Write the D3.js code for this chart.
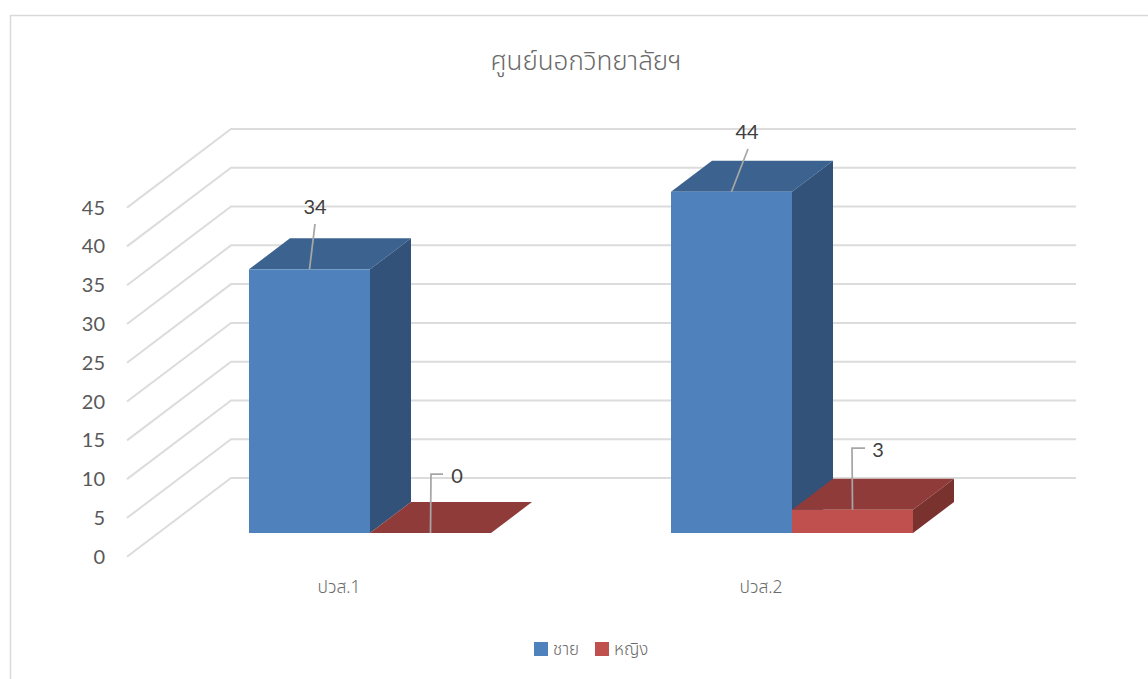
<!DOCTYPE html>
<html><head><meta charset="utf-8">
<script src="https://cdnjs.cloudflare.com/ajax/libs/d3/7.8.5/d3.min.js"></script>
<style>html,body{margin:0;padding:0;background:#fff;overflow:hidden}svg{display:block}</style>
</head><body><svg id="c" width="1148" height="679"></svg>
<script>
const chartTitle = "ศูนย์นอกวิทยาลัยฯ";
const categories = ["ปวส.1", "ปวส.2"];
const seriesNames = ["ชาย", "หญิง"];
const maleValues = [34, 44];
const femaleValues = [0, 3];
const yTicks = [0, 5, 10, 15, 20, 25, 30, 35, 40, 45];
const labelAnchors = [
  {v:34, tx:315, ty:207, path:[[315,224]]},
  {v:0, tx:457, ty:476, path:[[431,474],[443,474]]},
  {v:44, tx:747, ty:132, path:[[748,149]]},
  {v:3, tx:878, ty:450, path:[[852,448],[865,448]]}
];
const font = "Lato,'Noto Sans',sans-serif";
const thaiFont = "'Noto Sans Thai','Noto Sans','DejaVu Sans',sans-serif";
const svg = d3.select("#c");
// frame
svg.append("path").attr("d","M10.5,679V15.5H1148").attr("fill","none").attr("stroke","#d9d9d9").attr("stroke-width",1.5);
const depth = {x:41, y:-31};
const yFront = d3.scaleLinear().domain([0,45]).range([556.7,207.6]);
const yBack = d3.scaleLinear().domain([0,45]).range([478,129]);
const yBar = d3.scaleLinear().domain([0,45]).range([533,184]);
const x0 = d3.scaleBand().domain(categories).range([159,1003]);
const x1 = d3.scaleBand().domain(seriesNames).range([0,242]);
const xOffset = (x0.bandwidth()-242)/2;
const g = svg.append("g");
// gridlines
g.selectAll("path.grid").data(yTicks).join("path").attr("class","grid")
 .attr("d",d=>`M127,${yFront(d)}L231,${yBack(d)}H1076`)
 .attr("fill","none").attr("stroke","#dcdcdc").attr("stroke-width",2);
// y labels
g.selectAll("text.yl").data(yTicks).join("text").attr("class","yl")
 .attr("x",105).attr("y",d=>yFront(d)).attr("dy","0.35em").attr("text-anchor","end")
 .attr("font-family",font).attr("font-size",20).attr("fill","#595959").text(d=>d);
// bars
const palette = [{front:"#4f81bd",top:"#3c6390",side:"#325279"},{front:"#c0504d",top:"#8f3b39",side:"#7a322f"}];
const bars = [];
categories.forEach((c,i)=>{
  seriesNames.forEach((s,j)=>{
    const v = (j===0?maleValues:femaleValues)[i];
    bars.push({c,s,v,j});
  });
});
const bx = d=>x0(d.c)+xOffset+x1(d.s);
const bw = x1.bandwidth();
const pts = a=>a.map(p=>p.join(",")).join(" ");
const bg = g.selectAll("g.bar").data(bars).join("g").attr("class","bar");
bg.append("polygon").attr("points",d=>{
  const l=bx(d),r=l+bw,t=yBar(d.v);
  return pts([[l,t],[r,t],[r+depth.x,t+depth.y],[l+depth.x,t+depth.y]]);
}).attr("fill",d=>palette[d.j].top);
bg.append("polygon").attr("points",d=>{
  const r=bx(d)+bw,t=yBar(d.v),b=yBar(0);
  return pts([[r,t],[r+depth.x,t+depth.y],[r+depth.x,b+depth.y],[r,b]]);
}).attr("fill",d=>palette[d.j].side);
bg.append("rect").attr("x",bx).attr("y",d=>yBar(d.v)).attr("width",bw)
 .attr("height",d=>yBar(0)-yBar(d.v)).attr("fill",d=>palette[d.j].front);
// leader lines and labels
const labelled = [
  {c:categories[0],s:seriesNames[0],v:maleValues[0]},
  {c:categories[0],s:seriesNames[1],v:femaleValues[0]},
  {c:categories[1],s:seriesNames[0],v:maleValues[1]},
  {c:categories[1],s:seriesNames[1],v:femaleValues[1]}
].map((d,i)=>({...d,...labelAnchors[i]}));
const lg = g.selectAll("g.dl").data(labelled).join("g").attr("class","dl");
const anchorX = d=>bx(d)+bw/2;
lg.append("path").attr("d",d=>d3.line()([[anchorX(d),yBar(d.v)],...d.path]))
 .attr("fill","none").attr("stroke","#a6a6a6").attr("stroke-width",1.75);
lg.append("text").attr("x",d=>d.tx).attr("y",d=>d.ty).attr("dy","0.35em").attr("text-anchor","middle")
 .attr("font-family",font).attr("font-size",20).attr("fill","#404040").text(d=>d.v);
// category labels
g.selectAll("text.xl").data(categories).join("text").attr("class","xl")
 .attr("x",d=>x0(d)+x0.bandwidth()/2-31).attr("y",587).attr("dy","0.35em").attr("text-anchor","middle")
 .attr("font-family",thaiFont).attr("font-size",17.5).attr("font-weight",300).attr("fill","#6a6a6a").text(d=>d);
// title
svg.append("text").attr("x",586).attr("y",61).attr("dy","0.35em").attr("text-anchor","middle")
 .attr("font-family",thaiFont).attr("font-size",26).attr("font-weight",300).attr("fill","#6a6a6a").text(chartTitle);
// legend
const legendX = d3.scalePoint().domain(seriesNames).range([534,595]);
const lgd = svg.selectAll("g.lg").data(seriesNames).join("g").attr("class","lg").attr("transform",d=>`translate(${legendX(d)},642)`);
lgd.append("rect").attr("width",14).attr("height",14).attr("fill",(d,i)=>palette[i].front);
lgd.append("text").attr("x",19).attr("y",7).attr("dy","0.35em").attr("font-family",thaiFont)
 .attr("font-size",17).attr("font-weight",300).attr("fill","#6a6a6a").text(d=>d);
</script></body></html>
